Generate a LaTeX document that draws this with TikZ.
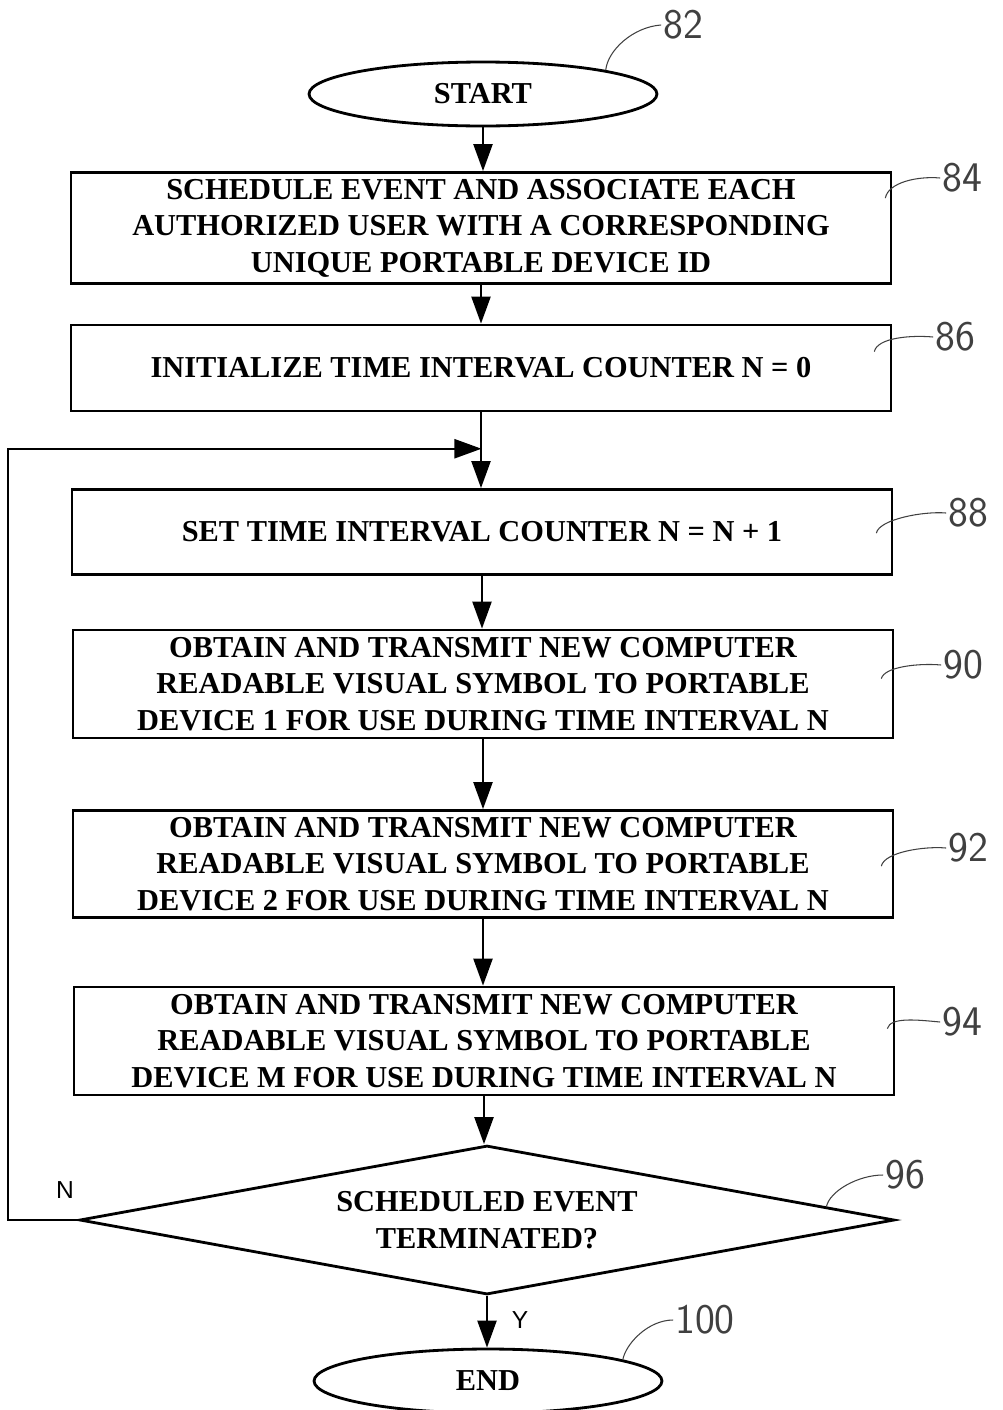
\documentclass[tikz,border=0pt]{standalone}
\usepackage{fontspec}
\setmainfont{Liberation Serif}
\newfontfamily\nysans{Liberation Sans}
\usepackage{tikz}
\usetikzlibrary{positioning}
\usetikzlibrary{arrows.meta, calc, positioning, shapes.geometric}

\begin{document}
\begin{tikzpicture}[x=0.02cm, y=-0.02cm,
  font=\bfseries\fontsize{17.3}{20.8}\selectfont,
  stepbox/.style={draw, rectangle, line width=1.6pt, align=center,
                  minimum width=16.4cm, inner sep=0pt},
     term/.style={draw, ellipse, line width=1.6pt,
                  minimum width=6.96cm, minimum height=1.28cm, inner sep=0pt},
     test/.style={draw, diamond, line width=1.6pt, align=center, shape aspect=5.5,
                  minimum width=16.3cm, minimum height=2.98cm, inner sep=0pt},
     flow/.style={line width=1.3pt, -{Triangle[length=0.54cm, width=0.38cm]}},
   refnum/.style={font=\sffamily\fontsize{24}{24}\selectfont, text=black!75, inner sep=1pt},
   leader/.style={line width=0.6pt, black!75},
    yesno/.style={font=\nysans\fontsize{14}{14}\selectfont}]
  \useasboundingbox (0,0) rectangle (1002,1410);

  % steps of the flow
  \node[term] (start) at (483,94) {START};
  \node[stepbox, minimum height=2.22cm] (b84) at (481,228)
    {SCHEDULE EVENT AND ASSOCIATE EACH\\AUTHORIZED USER WITH A CORRESPONDING\\UNIQUE PORTABLE DEVICE ID};
  \node[stepbox, minimum height=1.72cm] (b86) at (481,368) {INITIALIZE TIME INTERVAL COUNTER N = 0};
  \node[stepbox, minimum height=1.70cm] (b88) at (482,532) {SET TIME INTERVAL COUNTER N = N + 1};
  \node[stepbox, minimum height=2.16cm] (b90) at (483,684)
    {OBTAIN AND TRANSMIT NEW COMPUTER\\READABLE VISUAL SYMBOL TO PORTABLE\\DEVICE 1 FOR USE DURING TIME INTERVAL N};
  \node[stepbox, minimum height=2.14cm] (b92) at (483,864)
    {OBTAIN AND TRANSMIT NEW COMPUTER\\READABLE VISUAL SYMBOL TO PORTABLE\\DEVICE 2 FOR USE DURING TIME INTERVAL N};
  \node[stepbox, minimum height=2.16cm] (b94) at (484,1041)
    {OBTAIN AND TRANSMIT NEW COMPUTER\\READABLE VISUAL SYMBOL TO PORTABLE\\DEVICE M FOR USE DURING TIME INTERVAL N};
  \node[test] (b96) at (487,1220) {SCHEDULED EVENT\\TERMINATED?};
  \node[term] (b100) at (488,1381) {END};

  \node[yesno] (nlab) at (65,1190) {N};
  \node[yesno] (ylab) at (520,1320) {Y};

  % arrows
  \coordinate (join) at ($(b86.south)!0.48!(b88.north)$);
  \draw[flow] (start.south) -- (start.south |- b84.north);
  \draw[flow] (b84.south) -- (b84.south |- b86.north);
  \draw[flow] (b86.south) -- (b86.south |- b88.north);
  \draw[flow] (b88.south) -- (b88.south |- b90.north);
  \draw[flow] (b90.south) -- (b90.south |- b92.north);
  \draw[flow] (b92.south) -- (b92.south |- b94.north);
  \draw[flow] (b94.south) -- (b94.south |- b96.north);
  \draw[flow] (b96.south) -- (b96.south |- b100.north);
  \draw[flow] (b96.west) -- ++(-70,0) |- (join);

  % reference numerals
  \node[refnum] (l82) at (683,25) {82};
  \node[refnum] (l84) at (962,178) {84};
  \node[refnum] (l86) at (955,337) {86};
  \node[refnum] (l88) at (968,513) {88};
  \node[refnum] (l90) at (963,665) {90};
  \node[refnum] (l92) at (968,848) {92};
  \node[refnum] (l94) at (962,1022) {94};
  \node[refnum] (l96) at (905,1175) {96};
  \node[refnum] (l100) at (705,1320) {100};

  \draw[leader] (l82.west) .. controls +(-28,2) and +(2,-20) .. (start.11);
  \draw[leader] (l84.west) .. controls +(-22,-2) and +(3,-16) .. ($(b84.north east)+(-7,27)$);
  \draw[leader] (l86.west) .. controls +(-22,-2) and +(3,-14) .. ($(b86.north east)+(-18,28)$);
  \draw[leader] (l88.west) .. controls +(-22,-2) and +(3,-14) .. ($(b88.north east)+(-17,45)$);
  \draw[leader] (l90.west) .. controls +(-22,-2) and +(3,-12) .. ($(b90.north east)+(-13,50)$);
  \draw[leader] (l92.west) .. controls +(-22,-2) and +(3,-14) .. ($(b92.north east)+(-13,57)$);
  \draw[leader] (l94.west) .. controls +(-22,-2) and +(3,-12) .. ($(b94.north east)+(-8,43)$);
  \draw[leader] (l96.west) .. controls +(-25,0) and +(3,-16) .. ($(b96.north)!0.83!(b96.east)$);
  \draw[leader] (l100.west) .. controls +(-25,0) and +(3,-16) .. (b100.9);
\end{tikzpicture}
\end{document}
